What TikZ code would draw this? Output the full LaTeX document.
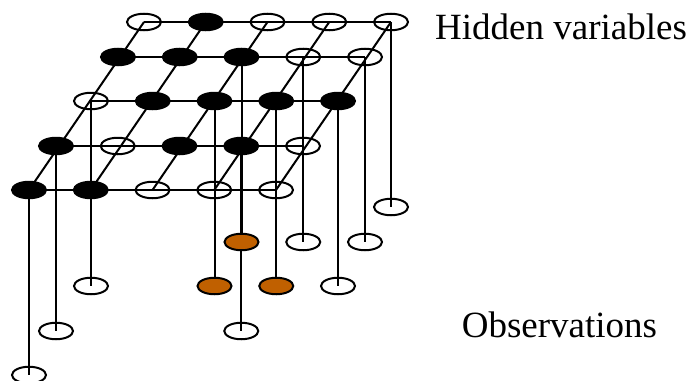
\documentclass[tikz,border=0pt]{standalone}
\usepackage{fontspec}
\setmainfont{Liberation Serif}
\usetikzlibrary{shapes.geometric,calc,backgrounds}
\definecolor{cobs}{HTML}{C06000}
\tikzset{
  var/.style={ellipse, draw, line width=2pt, minimum width=34pt,
    minimum height=16.5pt, inner sep=0pt},
  h0/.style={var},
  h1/.style={var, fill=black},
  obsw/.style={var},
  obsc/.style={var, fill=cobs},
  lnk/.style={line width=2pt},
  lbl/.style={anchor=base, font=\fontsize{37}{44}\selectfont},
}
\def\dcol{61.75}
\def\dobs{185}

\begin{document}
\begin{tikzpicture}[x=1pt, y=-1pt]
  \useasboundingbox (0,0) rectangle (693,380);
  % hidden layer, back row first
  \foreach \r/\xo/\yo/\pat in {0/144/22/{0,1,0,0,0}, 1/118/57/{1,1,1,0,0},
      2/91/101/{0,1,1,1,1}, 3/56/146/{1,0,1,1,0}, 4/29/190/{1,1,0,0,0}}{
    \foreach \f [count=\c from 0] in \pat
      \node[h\f] (h-\r-\c) at ({\xo+\c*\dcol},\yo) {};
  }
  % observed nodes hang below their hidden node
  \foreach \r/\c/\s in {0/4/obsw, 1/2/obsc, 1/3/obsw, 1/4/obsw, 2/0/obsw,
      2/2/obsc, 2/3/obsc, 2/4/obsw, 3/0/obsw, 3/3/obsw, 4/0/obsw}{
    \node[\s] (o-\r-\c) at ($(h-\r-\c)+(0,\dobs)$) {};
  }
  \begin{pgfonlayer}{background}
    \foreach \r in {0,...,4}
      \draw[lnk] (h-\r-0.center) -- (h-\r-4.center);
    \foreach \c in {0,...,4}
      \draw[lnk] (h-0-\c.center) -- (h-4-\c.center);
    \foreach \r/\c in {0/4, 1/2, 1/3, 1/4, 2/0, 2/2, 2/3, 2/4, 3/0, 3/3, 4/0}
      \draw[lnk] (h-\r-\c.center) -- (o-\r-\c.center);
  \end{pgfonlayer}
  \node[lbl] (thid) at (561,39) {Hidden variables};
  \node[lbl] (tobs) at (559.5,337) {Observations};
\end{tikzpicture}
\end{document}
